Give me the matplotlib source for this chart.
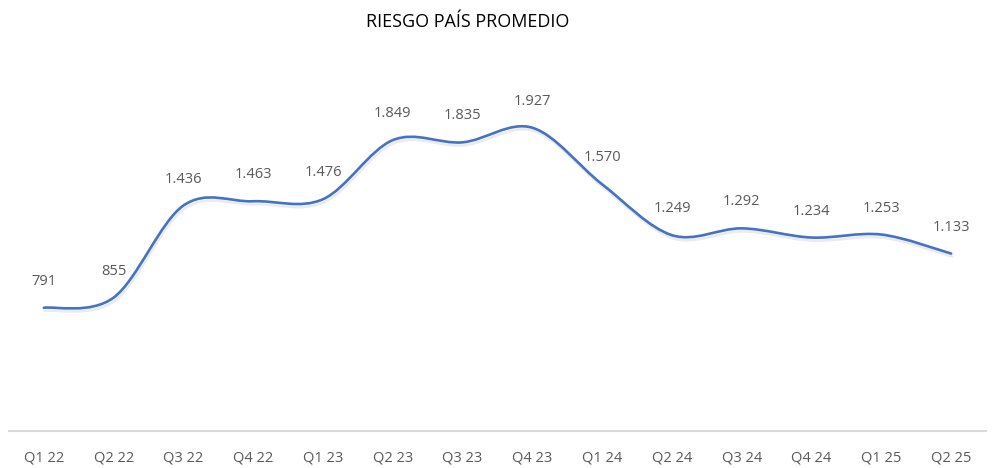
import numpy as np
import matplotlib
matplotlib.use("Agg")
from matplotlib import pyplot as plt
from matplotlib.path import Path
from matplotlib.patches import PathPatch
from matplotlib import patheffects as pe

quarters = ["Q1 22", "Q2 22", "Q3 22", "Q4 22", "Q1 23", "Q2 23", "Q3 23",
            "Q4 23", "Q1 24", "Q2 24", "Q3 24", "Q4 24", "Q1 25", "Q2 25"]
riesgo = [791, 855, 1436, 1463, 1476, 1849, 1835, 1927, 1570, 1249, 1292, 1234, 1253, 1133]


def fmt(v):
    return f"{v:,}".replace(",", ".")


def smooth_path(xs, ys, t=1 / 6):
    # bezier curve through the points, like the spreadsheet "smoothed line"
    pts = np.column_stack([xs, ys]).astype(float)
    n = len(pts)
    verts = [pts[0]]
    codes = [Path.MOVETO]
    for i in range(n - 1):
        p0 = pts[max(i - 1, 0)]
        p1 = pts[i]
        p2 = pts[i + 1]
        p3 = pts[min(i + 2, n - 1)]
        c1 = p1 + (p2 - p0) * t
        c2 = p2 - (p3 - p1) * t
        verts += [c1, c2, p2]
        codes += [Path.CURVE4] * 3
    return Path(verts, codes)


fig = plt.figure(figsize=(9.93, 4.68), dpi=100)
ax = fig.add_axes([0.009, 0.079, 0.984, 0.842])

x = np.arange(len(quarters))
line = PathPatch(smooth_path(x, riesgo), facecolor="none", edgecolor="#4472C4",
                 linewidth=1.9, capstyle="round")
line.set_path_effects([pe.SimpleLineShadow(offset=(0.8, -2.2), shadow_color="black", alpha=0.08),
                       pe.Normal()])
ax.add_patch(line)

for xi, v in zip(x, riesgo):
    ax.annotate(fmt(v), (xi, v), xytext=(0, 19), textcoords="offset points",
                ha="center", va="center", fontsize=10.5, color="#595959",
                family="Open Sans")

ax.set_xlim(-0.5, len(quarters) - 0.5)
ax.set_ylim(13, 2500)
ax.set_xticks(x)
ax.set_xticklabels(quarters, fontsize=10.5, color="#595959", family="Open Sans")
ax.tick_params(axis="x", length=0, pad=14)
ax.set_yticks([])
for s in ["top", "left", "right"]:
    ax.spines[s].set_visible(False)
ax.spines["bottom"].set_color("#d9d9d9")
ax.spines["bottom"].set_linewidth(1.5)

fig.text(468 / 993, 1 - 22 / 468, "RIESGO PAÍS PROMEDIO", ha="center", va="center",
         fontsize=13, color="black", family="Open Sans")

fig.savefig("out.png", dpi=100)
plt.close(fig)
